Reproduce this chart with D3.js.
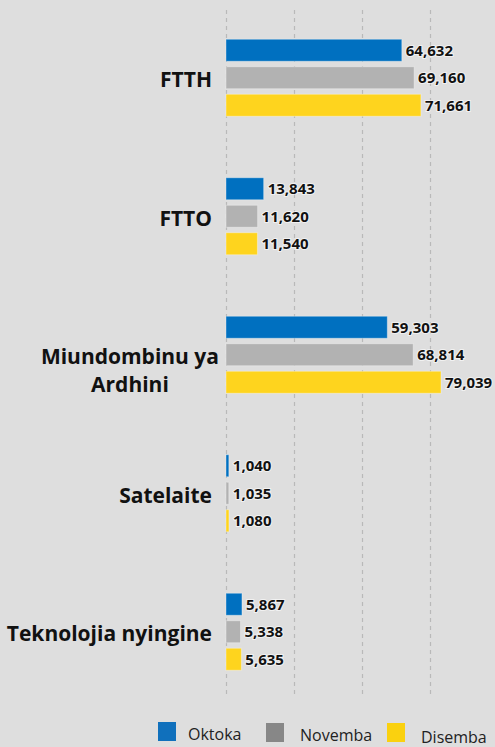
<!DOCTYPE html>
<html>
<head>
<meta charset="utf-8">
<script src="https://cdnjs.cloudflare.com/ajax/libs/d3/7.8.5/d3.min.js"></script>
<style>
  html, body { margin: 0; padding: 0; background: #dedede; }
  svg { display: block; font-family: "Open Sans", "Noto Sans", sans-serif; }
</style>
</head>
<body>
<script>
// chart data
const categories = ["FTTH", "FTTO", "Miundombinu ya\nArdhini", "Satelaite", "Teknolojia nyingine"];
const seriesNames = ["Oktoka", "Novemba", "Disemba"];
const oktoka  = [64632, 13843, 59303, 1040, 5867];
const novemba = [69160, 11620, 68814, 1035, 5338];
const disemba = [71661, 11540, 79039, 1080, 5635];
const gridTicks = [0, 25000, 50000, 75000];

const barColors = ["#0070c0", "#b2b2b2", "#fed41e"];
const legendColors = ["#1070bc", "#878787", "#fad10f"];

const w = 495, h = 747;
const svg = d3.select("body").append("svg").attr("width", w).attr("height", h);

const x = d3.scaleLinear().domain([0, 75000]).range([226, 430]);
const y = d3.scaleBand().domain(categories).range([8.5, 701]).padding(0);
const bw = y.bandwidth();
const inner = d3.scaleBand().domain(seriesNames)
  .range([bw / 2 - 41.25, bw / 2 + 41.25]).paddingInner(0.2).paddingOuter(0.1);

// dashed grid
svg.append("g").selectAll("line").data(gridTicks).enter().append("line")
  .attr("x1", d => Math.round(x(d)) + 0.5).attr("x2", d => Math.round(x(d)) + 0.5)
  .attr("y1", 10).attr("y2", 698)
  .attr("stroke", "#b9b9b9").attr("stroke-width", 1.2).attr("stroke-dasharray", "4,4");

const rows = categories.map((c, i) => ({ cat: c, vals: [oktoka[i], novemba[i], disemba[i]] }));

const grp = svg.selectAll(".grp").data(rows).enter().append("g")
  .attr("class", "grp")
  .attr("transform", d => "translate(0," + y(d.cat) + ")");

const bars = grp.selectAll(".bar").data(d => d.vals.map((v, k) => ({ v: v, s: seriesNames[k], k: k })))
  .enter().append("g").attr("class", "bar");

bars.append("rect")
  .attr("x", x(0))
  .attr("y", d => inner(d.s))
  .attr("width", d => Math.max(x(d.v) - x(0), 1.5))
  .attr("height", inner.bandwidth())
  .attr("fill", d => barColors[d.k])
  .attr("stroke", "rgba(255,255,255,0.35)")
  .attr("stroke-width", 1);

bars.append("text")
  .attr("x", d => x(d.v) + 4)
  .attr("y", d => inner(d.s) + inner.bandwidth() / 2)
  .attr("dy", "0.35em")
  .attr("font-size", 15).attr("font-weight", "bold").attr("fill", "#111")
  .attr("stroke", "rgba(255,255,255,0.6)").attr("stroke-width", 2)
  .attr("paint-order", "stroke")
  .text(d => d3.format(",")(d.v));

// category labels (wrapped ones hang from the group centre)
grp.each(function(d) {
  const lines = d.cat.split("\n");
  const g = d3.select(this);
  const t = g.append("text")
    .attr("font-size", 21).attr("font-weight", "bold").attr("fill", "#111");
  const lh = 28;
  const top = bw / 2 + 2;
  lines.forEach((ln, j) => {
    t.append("tspan").attr("x", 0).attr("y", top + j * lh).attr("dy", "0.35em").text(ln);
  });
  let maxW = 0;
  t.selectAll("tspan").each(function() { maxW = Math.max(maxW, this.getComputedTextLength()); });
  if (lines.length > 1) {
    t.attr("text-anchor", "middle");
    t.selectAll("tspan").attr("x", 219 - maxW / 2);
  } else {
    t.attr("text-anchor", "end");
    t.selectAll("tspan").attr("x", 212);
  }
});

// legend
const legX = [158, 266, 387];
const leg = svg.selectAll(".leg").data(seriesNames).enter().append("g")
  .attr("class", "leg")
  .attr("transform", (d, i) => "translate(" + legX[i] + "," + (722 + (i > 0 ? 1 : 0)) + ")");
leg.append("rect").attr("width", 18).attr("height", 19).attr("fill", (d, i) => legendColors[i]);
leg.append("text").attr("x", (d, i) => i === 0 ? 30 : 34).attr("y", (d, i) => i === 2 ? 20 : 18)
  .attr("font-size", 16).attr("fill", "#222").text(d => d);
</script>
</body>
</html>
